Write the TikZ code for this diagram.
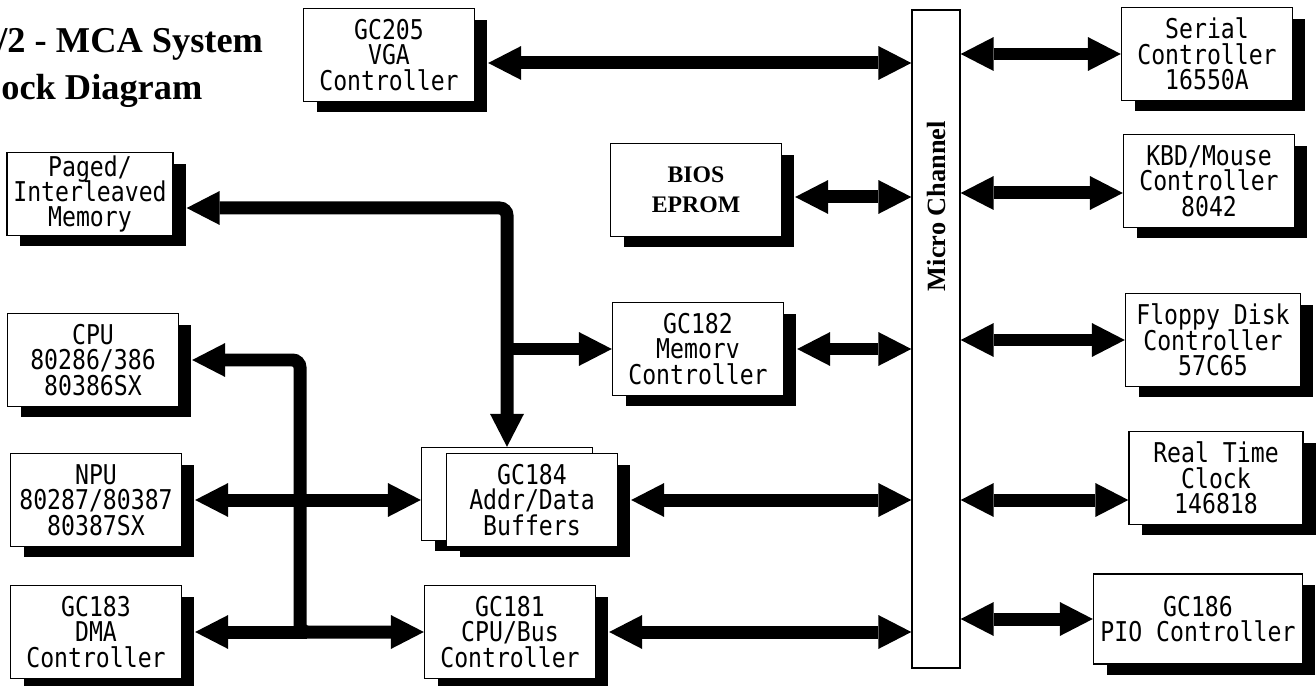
\documentclass[tikz,border=0pt]{standalone}
\usepackage{fontspec}
\usetikzlibrary{arrows.meta,shadows}
\newfontfamily\chipfont{DejaVu Sans Mono}[FakeStretch=0.85]
\newfontfamily\serfont{Liberation Serif}
\newcommand\chipsize{\chipfont\fontsize{15.5}{14.5}\selectfont\lineskiplimit=-20pt}
\begin{document}
\begin{tikzpicture}[x=0.02cm,y=-0.02cm,line join=miter,
    >={Triangle[length=0.66cm,width=0.68cm,line width=0pt]}]
  \tikzset{
    blk/.style={draw,fill=white,line width=0.8pt,align=center,font=\chipsize,
      minimum width=3.42cm,minimum height=1.86cm,inner sep=0pt,
      drop shadow={shadow xshift=0.26cm,shadow yshift=-0.22cm,fill=black,opacity=1}},
    bus/.style={line width=0.26cm}
  }
  \useasboundingbox (0,0) rectangle (1316,686);
  % title, cut at the left edge
  \node[anchor=base west,inner sep=0pt,font=\serfont\bfseries\fontsize{20.7}{24}\selectfont] (ttla) at (-3,53) {/2 - MCA System};
  \node[anchor=base west,inner sep=0pt,font=\serfont\bfseries\fontsize{20.7}{24}\selectfont] (ttlb) at (1,100) {ock Diagram};
  % micro channel
  \node[draw,fill=white,line width=0.8pt,minimum width=0.96cm,minimum height=13.16cm] (bar) at (936,339) {};
  \node[rotate=90,font=\serfont\bfseries\fontsize{15}{18}\selectfont] (barlbl) at (936,206) {Micro Channel};
  % blocks
  \node[blk] (vga) at (389,55) {GC205\\VGA\\Controller};
  \node[blk] (serial) at (1207,54) {Serial\\Controller\\16550A};
  \node[blk] (kbd) at (1209,181) {KBD/Mouse\\Controller\\8042};
  \node[blk,minimum width=3.32cm,minimum height=1.66cm] (mem) at (90,194) {Paged/\\Interleaved\\Memory};
  \node[blk,font=\serfont\bfseries\fontsize{13.5}{17}\selectfont] (bios) at (696,190) {BIOS\\EPROM};
  \node[blk] (memctl) at (698,349) {GC182\\Memorv\\Controller};
  \node[blk] (cpu) at (93,360) {CPU\\80286/386\\80386SX};
  \node[blk] (npu) at (96,500) {NPU\\80287/80387\\80387SX};
  \node[blk] (dma) at (96,632) {GC183\\DMA\\Controller};
  \node[blk] (bufback) at (507,494) {};
  \node[blk] (buf) at (532,500) {GC184\\Addr/Data\\Buffers};
  \node[blk] (busctl) at (510,632) {GC181\\CPU/Bus\\Controller};
  \node[blk,minimum width=3.5cm] (floppy) at (1213,340) {Floppy Disk\\Controller\\57C65};
  \node[blk,minimum width=3.48cm] (rtc) at (1216,478) {Real Time\\Clock\\146818};
  \node[blk,minimum width=4.18cm,minimum height=1.8cm] (pio) at (1198,619) {GC186\\PIO Controller};
  % buses to the micro channel
  \draw[bus,<->] ([xshift=0.26cm,yshift=-0.16cm]vga.east) -- ([yshift=-0.16cm]vga.east -| bar.west);
  \draw[bus,<->] (bar.east |- serial.west) -- (serial.west);
  \draw[bus,<->] ([yshift=-0.24cm]bar.east |- kbd.west) -- ([yshift=-0.24cm]kbd.west);
  \draw[bus,<->] ([xshift=0.26cm,yshift=-0.14cm]bios.east) -- ([yshift=-0.14cm]bios.east -| bar.west);
  \draw[bus,<->] ([xshift=0.26cm]memctl.east) -- (memctl.east -| bar.west);
  \draw[bus,<->] (bar.east |- floppy.west) -- (floppy.west);
  \draw[bus,<->] ([xshift=0.26cm]buf.east) -- (buf.east -| bar.west);
  \draw[bus,<->] (bar.east |- buf.east) -- (rtc.west |- buf.east);
  \draw[bus,<->] ([xshift=0.26cm]busctl.east) -- (busctl.east -| bar.west);
  \draw[bus,<->] (bar.east |- pio.west) -- (pio.west);
  % memory bus
  \draw[bus,<->,rounded corners=0.15cm] ([xshift=0.26cm,yshift=-0.28cm]mem.east) -| (bufback.north);
  \draw[bus,->] (bufback.north |- memctl.west) -- (memctl.west);
  % cpu local bus
  \coordinate (cpuj) at (300,632);
  \draw[bus,<->,rounded corners=0.15cm] ([xshift=0.26cm]cpu.east) -| (cpuj) -- (busctl.west |- cpuj);
  \draw[bus,->] ([xshift=0.13cm]cpuj) -- ([xshift=0.26cm]dma.east);
  \draw[bus,<->] ([xshift=0.26cm]npu.east) -- (bufback.west |- npu.east);
\end{tikzpicture}
\end{document}
